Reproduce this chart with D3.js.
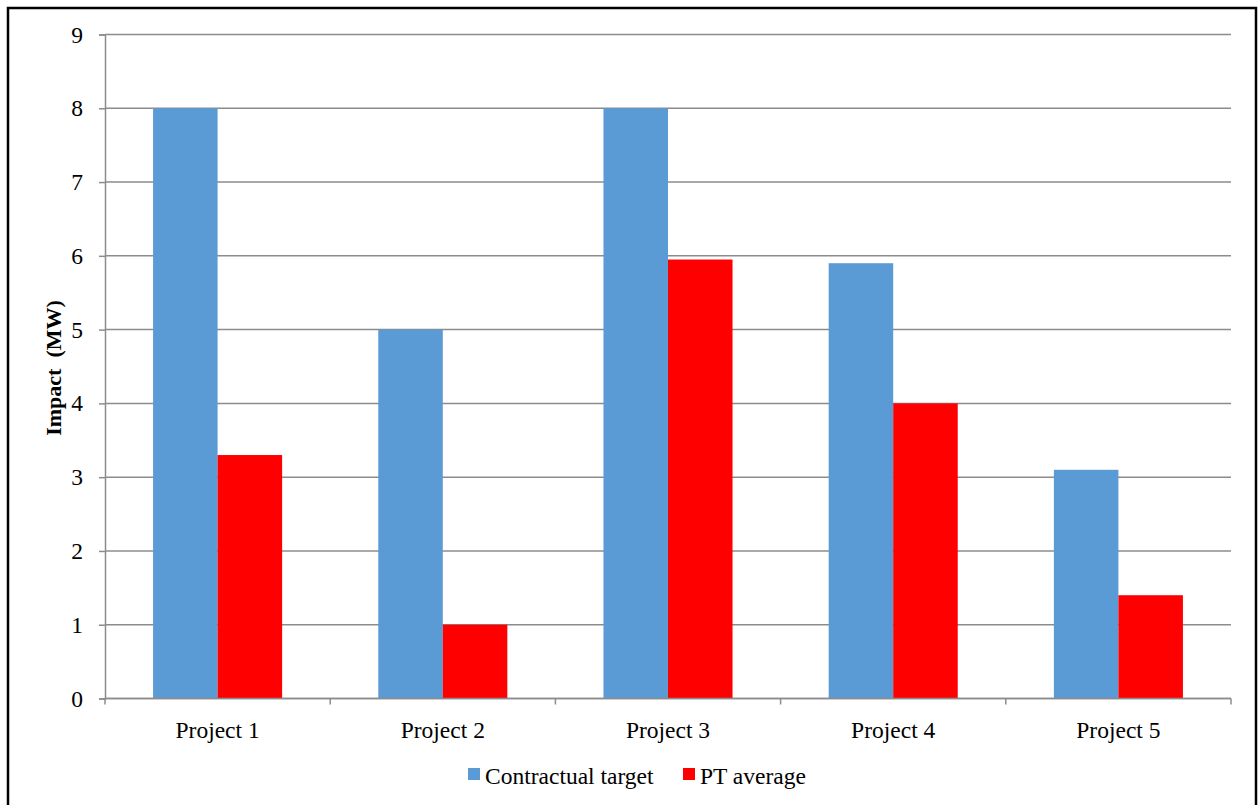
<!DOCTYPE html>
<html>
<head>
<meta charset="utf-8">
<script src="https://cdn.jsdelivr.net/npm/d3@7"></script>
<style>
  html, body { margin: 0; padding: 0; background: #fff; }
  svg { display: block; font-family: "Liberation Serif", "Times New Roman", serif; }
</style>
</head>
<body>
<svg id="chart" width="1258" height="805"></svg>
<script>
// Projects and the two compared series (MW)
const categories = ["Project 1", "Project 2", "Project 3", "Project 4", "Project 5"];
const seriesNames = ["Contractual target", "PT average"];
const contractualTarget = [8, 5, 8, 5.9, 3.1];
const ptAverage = [3.3, 1, 5.95, 4, 1.4];
const yTicks = [0, 1, 2, 3, 4, 5, 6, 7, 8, 9];
const colors = ["#5b9bd5", "#ff0000"];

const svg = d3.select("#chart");
const margin = { left: 105, right: 1231, top: 34.5, bottom: 698.5 };
const fontSize = "23.5px";

// Outer frame
svg.append("rect")
  .attr("x", 8).attr("y", 8)
  .attr("width", 1248).attr("height", 810)
  .attr("fill", "none").attr("stroke", "#000").attr("stroke-width", 2.5);

const y = d3.scaleLinear().domain([0, 9]).range([margin.bottom, margin.top]);
const x0 = d3.scaleBand().domain(categories).range([margin.left, margin.right]).padding(0);
const x1 = d3.scaleBand().domain(seriesNames)
  .range([0, x0.bandwidth()]).paddingInner(0).paddingOuter(0.745);

// Horizontal gridlines
svg.append("g")
  .selectAll("line")
  .data(yTicks)
  .join("line")
  .attr("x1", margin.left).attr("x2", margin.right)
  .attr("y1", d => y(d)).attr("y2", d => y(d))
  .attr("stroke", "#8c8c8c").attr("stroke-width", 1.5);

// Bars
const rows = categories.map((c, i) => ({ cat: c, vals: [contractualTarget[i], ptAverage[i]] }));
svg.append("g")
  .selectAll("g")
  .data(rows)
  .join("g")
  .attr("transform", d => `translate(${x0(d.cat)},0)`)
  .selectAll("rect")
  .data(d => d.vals.map((v, j) => ({ name: seriesNames[j], v, j })))
  .join("rect")
  .attr("x", d => x1(d.name))
  .attr("width", x1.bandwidth())
  .attr("y", d => y(d.v))
  .attr("height", d => y(0) - y(d.v))
  .attr("fill", d => colors[d.j]);

// Y axis
const yAxis = svg.append("g")
  .attr("transform", `translate(${margin.left},0)`)
  .call(d3.axisLeft(y).tickValues(yTicks).tickSize(6).tickPadding(16).tickFormat(d3.format("d")));
yAxis.select(".domain").attr("stroke", "#8c8c8c").attr("stroke-width", 1.5);
yAxis.selectAll(".tick line").attr("stroke", "#8c8c8c").attr("stroke-width", 1.5);
yAxis.selectAll(".tick text")
  .attr("fill", "#000")
  .style("font-family", "'Liberation Serif', serif")
  .style("font-size", fontSize);

// X axis baseline with ticks at category boundaries
svg.append("line")
  .attr("x1", margin.left).attr("x2", margin.right)
  .attr("y1", y(0)).attr("y2", y(0))
  .attr("stroke", "#8c8c8c").attr("stroke-width", 1.5);
const boundaries = categories.map(c => x0(c)).concat([margin.right]);
svg.append("g")
  .selectAll("line")
  .data(boundaries)
  .join("line")
  .attr("x1", d => d).attr("x2", d => d)
  .attr("y1", y(0)).attr("y2", y(0) + 6)
  .attr("stroke", "#8c8c8c").attr("stroke-width", 1.5);

// Category labels
svg.append("g")
  .selectAll("text")
  .data(categories)
  .join("text")
  .attr("x", d => x0(d) + x0.bandwidth() / 2)
  .attr("y", 738)
  .attr("text-anchor", "middle")
  .style("font-size", fontSize)
  .text(d => d);

// Y axis title
svg.append("text")
  .attr("transform", "translate(61,368) rotate(-90)")
  .attr("text-anchor", "middle")
  .attr("xml:space", "preserve")
  .style("white-space", "pre")
  .style("font-size", "22px")
  .style("font-weight", "bold")
  .text("Impact  (MW)");

// Legend
const legendItems = [
  { name: seriesNames[0], color: colors[0], x: 468 },
  { name: seriesNames[1], color: colors[1], x: 683 }
];
const lg = svg.append("g");
lg.selectAll("rect")
  .data(legendItems)
  .join("rect")
  .attr("x", d => d.x).attr("y", 768)
  .attr("width", 12).attr("height", 12)
  .attr("fill", d => d.color);
lg.selectAll("text")
  .data(legendItems)
  .join("text")
  .attr("x", d => d.x + 17).attr("y", 784)
  .style("font-size", fontSize)
  .text(d => d.name);
</script>
</body>
</html>
